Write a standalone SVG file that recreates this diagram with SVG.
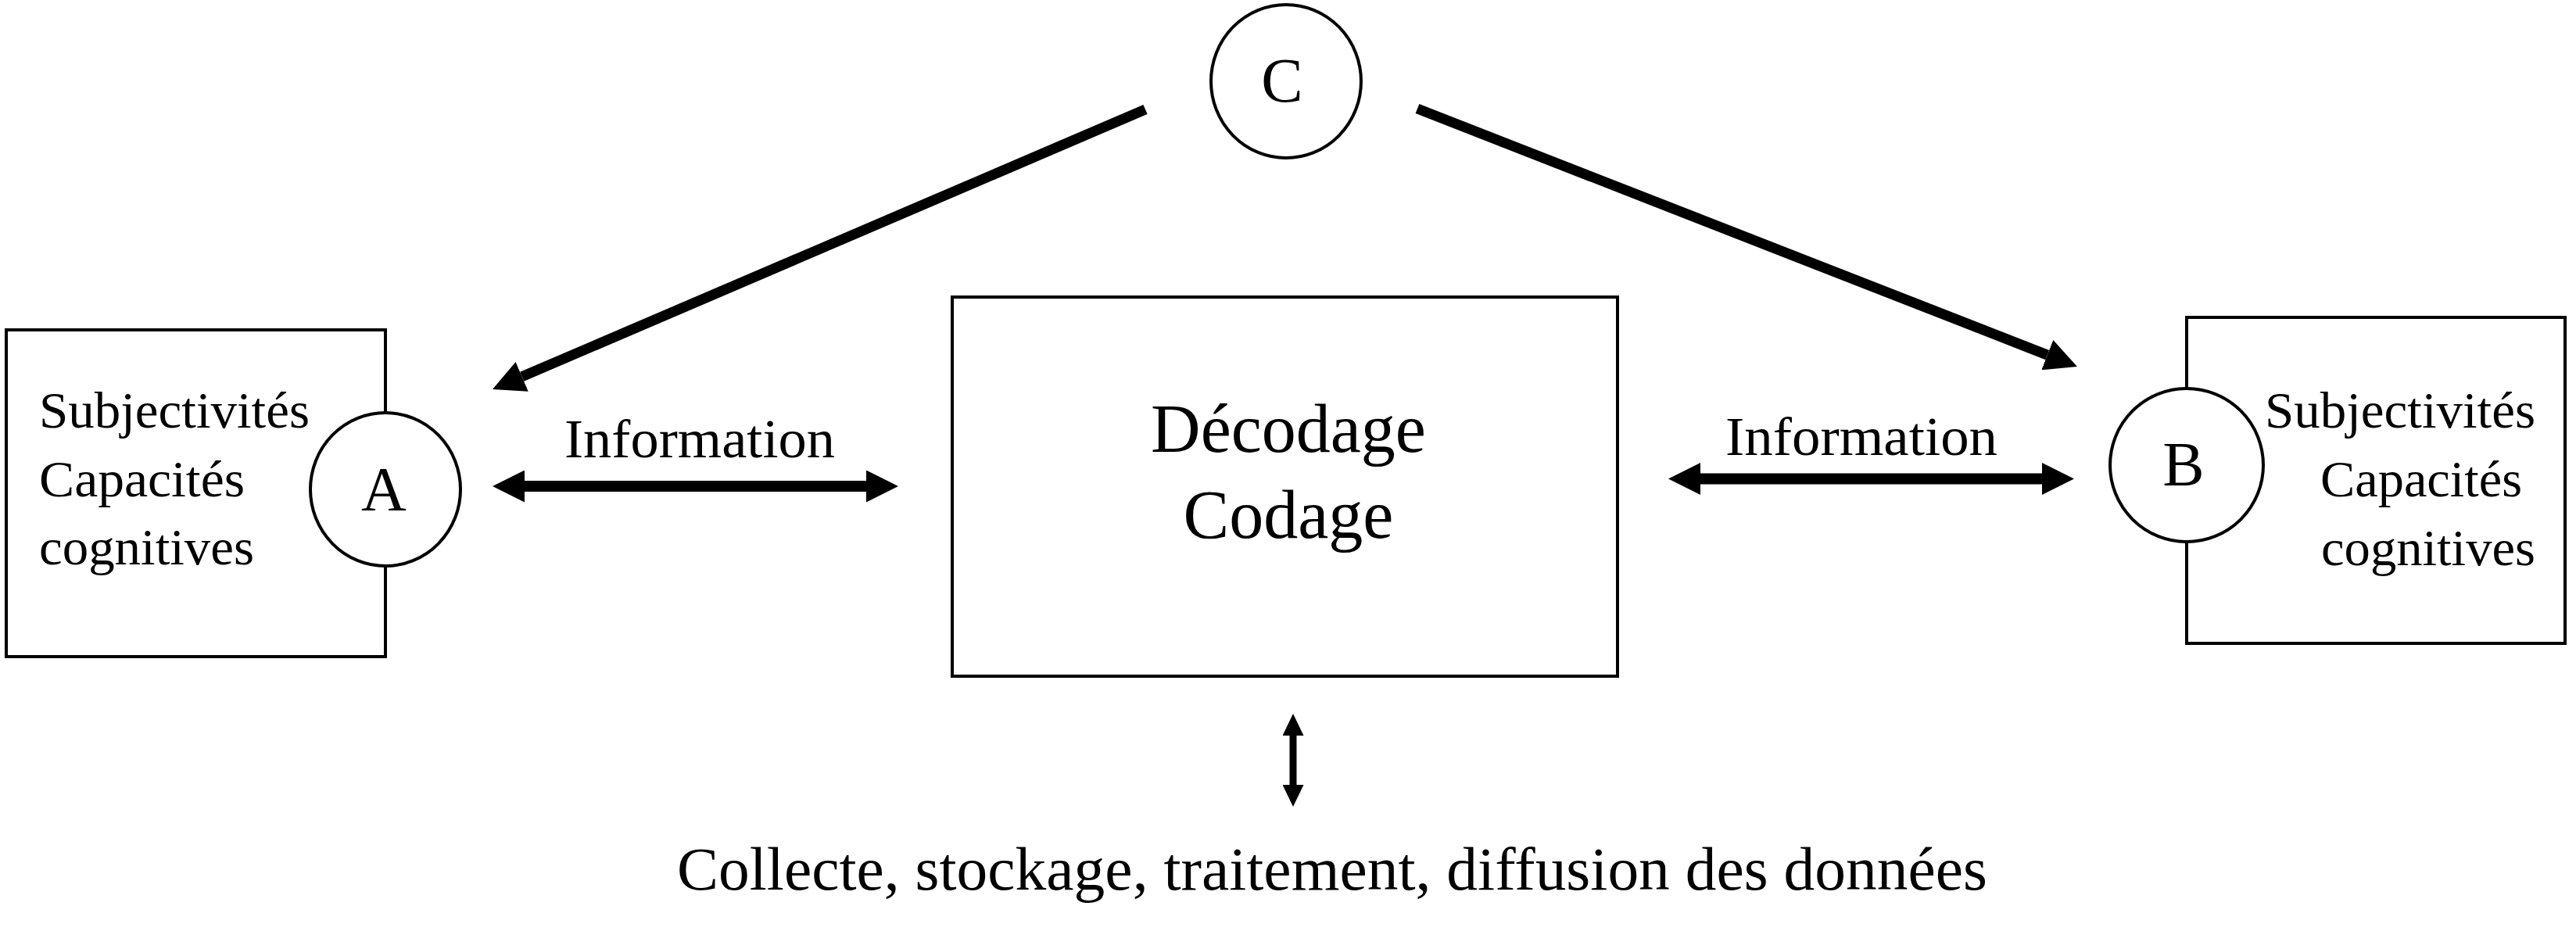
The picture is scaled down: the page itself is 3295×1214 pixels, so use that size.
<svg xmlns="http://www.w3.org/2000/svg" width="3295" height="1214" viewBox="0 0 3295 1214">
  <defs>
    <style>
      .box { fill: #ffffff; stroke: #000000; stroke-width: 4; }
      .node { fill: #ffffff; stroke: #000000; stroke-width: 4; }
      .txt { font-family: "Liberation Serif", "Times New Roman", serif; fill: #000000; }
      .lbl { font-size: 66px; }
      .letter { font-size: 80px; text-anchor: middle; }
      .big { font-size: 88px; text-anchor: middle; }
      .info { font-size: 70px; }
      .bottom { font-size: 78px; }
      .conn { stroke: #000000; fill: none; stroke-linecap: butt; }
    </style>
    <marker id="head" markerUnits="userSpaceOnUse" markerWidth="41" markerHeight="41" viewBox="0 0 41 41" refX="0" refY="20.5" orient="auto-start-reverse">
      <path d="M0,0 L41,20.5 L0,41 Z" fill="#000000"/>
    </marker>
    <marker id="headSmall" markerUnits="userSpaceOnUse" markerWidth="28" markerHeight="27" viewBox="0 0 28 27" refX="0" refY="13.5" orient="auto-start-reverse">
      <path d="M0,0 L28,13.5 L0,27 Z" fill="#000000"/>
    </marker>
  </defs>
  <rect width="3295" height="1214" fill="#ffffff"/>

  <g id="connectors">
    <line class="conn" x1="1465" y1="140" x2="667.7" y2="481.8" stroke-width="13" marker-end="url(#head)"/>
    <line class="conn" x1="1813" y1="139" x2="2618.8" y2="454.1" stroke-width="13" marker-end="url(#head)"/>
    <line class="conn" x1="671" y1="622" x2="1108" y2="622" stroke-width="14" marker-start="url(#head)" marker-end="url(#head)"/>
    <line class="conn" x1="2175" y1="612.5" x2="2612" y2="612.5" stroke-width="14" marker-start="url(#head)" marker-end="url(#head)"/>
    <line class="conn" x1="1654" y1="941" x2="1654" y2="1004" stroke-width="9" marker-start="url(#headSmall)" marker-end="url(#headSmall)"/>
    <text class="txt info" x="722" y="585" textLength="346" lengthAdjust="spacingAndGlyphs">Information</text>
    <text class="txt info" x="2207" y="582" textLength="348" lengthAdjust="spacingAndGlyphs">Information</text>
  </g>

  <g id="box-A">
    <rect class="box" x="8" y="422" width="485" height="418"/>
    <text class="txt lbl" x="50" y="547" textLength="346" lengthAdjust="spacingAndGlyphs">Subjectivités</text>
    <text class="txt lbl" x="50" y="635" textLength="263" lengthAdjust="spacingAndGlyphs">Capacités</text>
    <text class="txt lbl" x="50" y="722" textLength="275" lengthAdjust="spacingAndGlyphs">cognitives</text>
  </g>
  <g id="node-A">
    <ellipse class="node" cx="493" cy="626" rx="96" ry="98"/>
    <text class="txt letter" x="491" y="653">A</text>
  </g>

  <g id="box-B">
    <rect class="box" x="2797" y="406" width="484" height="417"/>
    <text class="txt lbl" x="2897" y="547" textLength="346" lengthAdjust="spacingAndGlyphs">Subjectivités</text>
    <text class="txt lbl" x="2968" y="635" textLength="258" lengthAdjust="spacingAndGlyphs">Capacités</text>
    <text class="txt lbl" x="2969" y="723" textLength="274" lengthAdjust="spacingAndGlyphs">cognitives</text>
  </g>
  <g id="node-B">
    <ellipse class="node" cx="2797" cy="595" rx="98" ry="98"/>
    <text class="txt letter" x="2793" y="621">B</text>
  </g>

  <g id="node-C">
    <ellipse class="node" cx="1645" cy="104" rx="96" ry="98"/>
    <text class="txt letter" x="1640" y="130">C</text>
  </g>

  <g id="node-decodage">
    <rect class="box" x="1218" y="380" width="851" height="485"/>
    <text class="txt big" x="1648" y="578">Décodage</text>
    <text class="txt big" x="1648" y="688">Codage</text>
  </g>

  <g id="label-bottom">
    <text class="txt bottom" x="866" y="1138" textLength="1676" lengthAdjust="spacingAndGlyphs">Collecte, stockage, traitement, diffusion des données</text>
  </g>
</svg>
